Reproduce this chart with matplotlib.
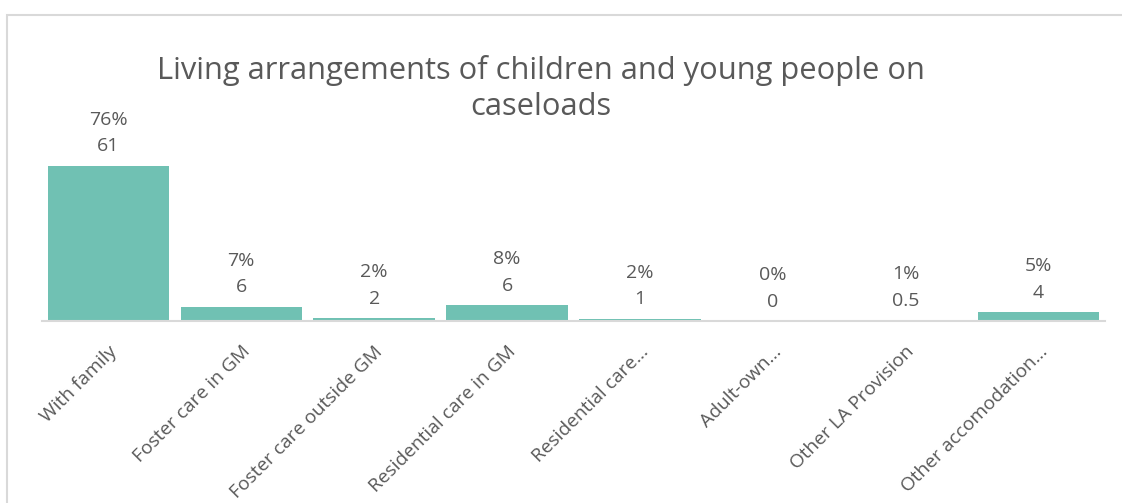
import matplotlib
matplotlib.use("Agg")
import matplotlib.pyplot as plt
from matplotlib.patches import Rectangle
from matplotlib.transforms import ScaledTranslation

categories = ["With family", "Foster care in GM", "Foster care outside GM",
              "Residential care in GM", "Residential care\u2026", "Adult-own\u2026",
              "Other LA Provision", "Other accomodation\u2026"]
pct_height = [76, 7.0, 1.4, 7.6, 1.2, 0, 0.4, 4.3]
pct_labels = ["76%", "7%", "2%", "8%", "2%", "0%", "1%", "5%"]
count_labels = ["61", "6", "2", "6", "1", "0", "0.5", "4"]

bar_col = "#70C1B3"
txt_col = "#595959"
grid_col = "#D9D9D9"

W, H = 1122, 503
fig = plt.figure(figsize=(W / 100, H / 100), dpi=100)
plt.rcParams['font.family'] = ['Open Sans', 'DejaVu Sans']

# chart area border (light grey, clipped by image edge)
fig.patches.append(Rectangle((7 / W, -0.1), 1.2, 1 - 15 / H + 0.1, transform=fig.transFigure,
                             fill=False, edgecolor=grid_col, lw=1.5))

ax = fig.add_axes([42 / W, 1 - 321 / H, (1105 - 42) / W, (321 - 165.7) / H])
x = list(range(len(categories)))
ax.bar(x, pct_height, width=0.915, color=bar_col, zorder=2)
ax.set_xlim(-0.5, len(categories) - 0.5)
ax.set_ylim(0, 76)

for s in ["top", "right", "left"]:
    ax.spines[s].set_visible(False)
ax.spines["bottom"].set_color(grid_col)
ax.spines["bottom"].set_linewidth(1.5)
ax.set_yticks([])
ax.set_xticks(x)
ax.set_xticklabels(categories, rotation=45, ha="right", va="center",
                   rotation_mode="anchor", fontsize=13.8, color=txt_col)
ax.tick_params(axis="x", length=0, pad=20)
shift = ScaledTranslation(6 / 100, 0, fig.dpi_scale_trans)
for lab in ax.get_xticklabels():
    lab.set_transform(lab.get_transform() + shift)

for i in x:
    ax.annotate(count_labels[i], (i, pct_height[i]), xytext=(0, 10.4), textcoords="offset points",
                ha="center", va="baseline", fontsize=14, color=txt_col, annotation_clip=False)
    ax.annotate(pct_labels[i], (i, pct_height[i]), xytext=(0, 29.5), textcoords="offset points",
                ha="center", va="baseline", fontsize=14, color=txt_col, annotation_clip=False)

fig.text(541 / W, 1 - 79 / H, "Living arrangements of children and young people on",
         ha="center", va="baseline", fontsize=22.2, color=txt_col)
fig.text(541 / W, 1 - 115 / H, "caseloads",
         ha="center", va="baseline", fontsize=22.2, color=txt_col)

fig.savefig("out.png", dpi=100)
